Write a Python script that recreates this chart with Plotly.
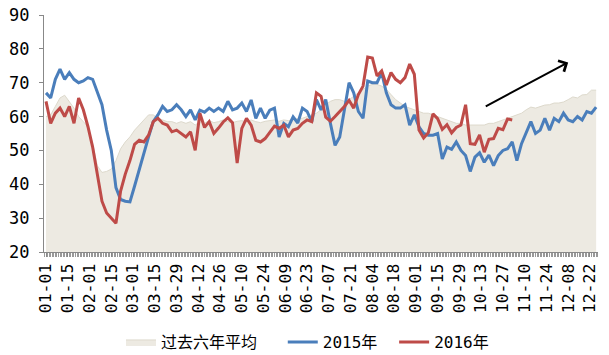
import plotly.graph_objects as go

# Category positions (trading-day index), one sample every 3 categories
STEP = 3

avg6 = [60, 60.5, 63, 65.5, 66.3, 64.5, 62.5, 60, 58.5, 57,
        52, 45.5, 43.5, 43.8, 44.5, 47, 50.5, 52.5, 54, 56,
        57.5, 59, 60.5, 60.5, 59.5, 59, 58.5, 58.5, 58, 58.5,
        58, 58.5, 57.5, 58.5, 58, 58.8, 58.2, 58.5, 59, 58.5,
        58.2, 58.6, 58.8, 58.4, 59, 58.5, 58.2, 58.6, 58.8, 59,
        58.6, 59, 58.8, 59.2, 59.4, 59.5, 60, 60.5, 61, 62,
        63.5, 64.5, 65, 65, 64.5, 65, 66, 67, 68, 69,
        69.5, 69.5, 69, 68, 66.5, 65, 64, 63, 62.5, 62,
        61.5, 61, 61, 60.5, 60, 59.5, 59, 58.5, 58, 58,
        57.5, 57.5, 57.5, 57.5, 57.5, 58, 58, 58.5, 59, 59.5,
        59.8, 60.5, 61, 62, 62.8, 62.5, 63, 63.4, 63.5, 64,
        64, 64.3, 65, 65.8, 65.5, 66.4, 66.5, 67.8, 67.8]

y2015 = [67, 65.5, 71, 74, 71, 73, 71, 70, 70.5, 71.5,
         71, 67.5, 63.5, 56, 50, 39, 35.5, 35, 34.8, 39.5,
         44.5, 49, 54, 58.5, 60.5, 63, 61.5, 62, 63.5, 62,
         60, 62, 59, 61.9, 61.3, 62.5, 61.5, 62.5, 61.5, 64.5,
         62, 62.5, 64, 61.5, 64.9, 59.5, 62.5, 59.5, 61.9, 62.5,
         54, 58, 57, 59.9, 58.1, 62.5, 61.5, 58.5, 65, 62,
         65, 58, 51.5, 54, 62, 70, 67, 61.5, 59.5, 70.5,
         70, 70, 73, 67, 63.5, 62.5, 62.5, 63.5, 57.5, 60.5,
         57, 55, 54.5, 54.5, 55, 47.5, 51, 50.3, 52.5, 50,
         48.5, 43.8, 48, 49.3, 46.5, 48.6, 45.5, 48.5, 50, 50.5,
         52.5, 47, 52, 55, 58.5, 55, 56, 59.5, 56, 59.5,
         58.5, 61, 59, 58.5, 60, 59, 61.5, 61, 62.8]

y2016 = [64.5, 58, 61, 62.5, 60, 63, 58, 65.5, 62, 57,
         51, 43, 35, 31.5, 30, 28.5, 38, 43, 47, 51.8,
         53, 52.5, 54.5, 58.5, 59.5, 58, 57.5, 55.5, 56, 55,
         54, 55.5, 50, 61, 56.8, 58.5, 55, 56.6, 58.4, 59.6,
         58.2, 46.3, 56.5, 59.5, 57.5, 53, 52.5, 53.5, 55.5, 57.2,
         56.5, 57.5, 54, 56, 56.5, 58, 59, 58.5, 67, 66,
         59.8, 58.6, 60, 61.4, 63, 64.8, 62.5, 66.5, 69, 77.6,
         77.3, 72, 73.5, 69.3, 73, 71, 70, 71.5, 75.5, 72.5,
         56, 53.7, 55.2, 60.8, 59.4, 56.2, 57.6, 55.2, 56.8, 57.5,
         63.5, 52, 51.8, 54.6, 49.5, 53.3, 53.5, 56.5, 56.1, 59.3,
         59]

tick_labels = ["01-01", "01-15", "02-01", "02-15", "03-01", "03-15", "03-29",
               "04-12", "04-26", "05-10", "05-24", "06-09", "06-23", "07-07",
               "07-21", "08-04", "08-18", "09-01", "09-15", "09-29", "10-13",
               "10-27", "11-10", "11-24", "12-08", "12-22"]
TICK_EVERY = 14

names = ["过去六年平均", "2015年", "2016年"]

x_avg = [i * STEP for i in range(len(avg6))]
x15 = [i * STEP for i in range(len(y2015))]
x16 = [i * STEP for i in range(len(y2016))]
tickvals = [i * TICK_EVERY for i in range(len(tick_labels))]

FONT = "DejaVu Sans Mono, Noto Sans CJK SC, monospace"

fig = go.Figure()
fig.add_trace(go.Scatter(x=x_avg, y=avg6, name=names[0], mode="lines",
                         fill="tozeroy", fillcolor="#EDEAE2",
                         line=dict(color="#DDD9CC", width=1), legend="legend"))
fig.add_trace(go.Scatter(x=x15, y=y2015, name=names[1], mode="lines",
                         line=dict(color="#4A7EBB", width=3), legend="legend2"))
fig.add_trace(go.Scatter(x=x16, y=y2016, name=names[2], mode="lines",
                         line=dict(color="#BE4B48", width=3), legend="legend3"))

fig.add_annotation(x=336, y=76, ax=282, ay=62.8, xref="x", yref="y",
                   axref="x", ayref="y", text="", showarrow=True,
                   arrowhead=4, arrowsize=1.2, arrowwidth=2, arrowcolor="black")

leg_common = dict(orientation="h", xanchor="left", y=-0.38, yanchor="middle",
                  font=dict(size=16, family=FONT), itemwidth=30,
                  bgcolor="rgba(0,0,0,0)", borderwidth=0)

fig.update_layout(
    width=609, height=355,
    margin=dict(l=44, r=11, t=15, b=103, autoexpand=False),
    paper_bgcolor="white", plot_bgcolor="white",
    font=dict(family=FONT, size=16, color="black"),
    showlegend=True,
    legend=dict(x=0.139, **leg_common),
    legend2=dict(x=0.431, **leg_common),
    legend3=dict(x=0.632, **leg_common),
)
fig.update_xaxes(
    range=[-1.3, 355.2], tickmode="array", tickvals=tickvals,
    ticktext=tick_labels, tickangle=-90, showgrid=False, zeroline=False,
    showline=True, linecolor="#888888", linewidth=1,
    ticks="outside", ticklen=4, tickcolor="#888888",
    tickfont=dict(size=16.5),
    minor=dict(tickmode="linear", tick0=0, dtick=1, ticks="outside",
               ticklen=4, tickcolor="#999999", showgrid=False),
    automargin=False,
)
fig.update_yaxes(
    range=[20, 90], dtick=10, showgrid=False, zeroline=False,
    showline=True, linecolor="#888888", linewidth=1,
    ticks="outside", ticklen=4, tickcolor="#888888",
    tickfont=dict(size=17), ticklabelstandoff=6, automargin=False,
)

fig.write_html("out.html")
